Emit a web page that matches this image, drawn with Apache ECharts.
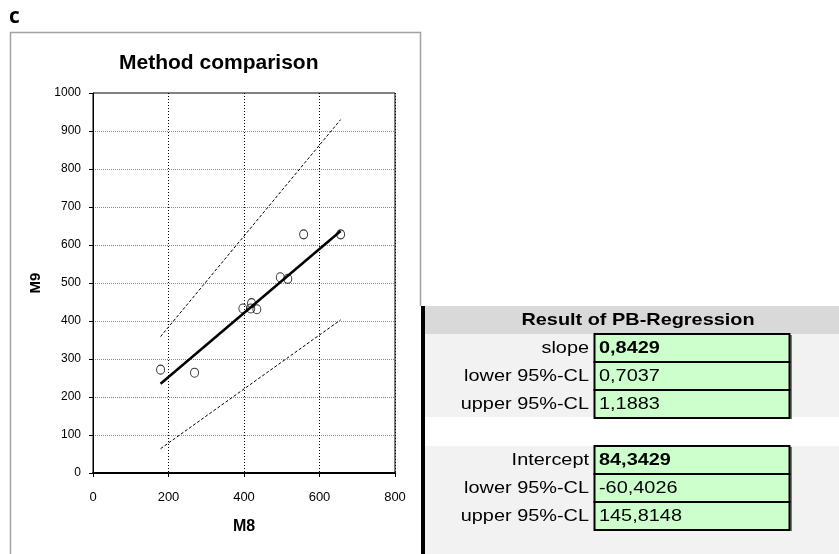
<!DOCTYPE html>
<html><head><meta charset="utf-8">
<script src="https://cdn.jsdelivr.net/npm/echarts@6/dist/echarts.min.js"></script>
<style>html,body{margin:0;padding:0;background:#fff}#c{width:839px;height:554px}</style>
</head><body><div id="c"></div>
<script>
// measured points
const m8 = [179, 269, 397, 420, 418, 434, 496, 516, 558, 656];
const m9 = [272, 264, 433, 447, 433, 431, 515, 511, 628, 628];
// regression line and confidence lines (end points)
const lineX = [179, 656];
const pbLine = [235, 637];
const upperCL = [359, 930];
const lowerCL = [64, 403];
// table contents
const tableTitle = 'Result of PB-Regression';
const slopeLabels = ['slope', 'lower 95%-CL', 'upper 95%-CL'];
const slopeValues = ['0,8429', '0,7037', '1,1883'];
const interceptLabels = ['Intercept', 'lower 95%-CL', 'upper 95%-CL'];
const interceptValues = ['84,3429', '-60,4026', '145,8148'];

const FONT = "'Liberation Sans', Arial, sans-serif";
const chart = echarts.init(document.getElementById('c'), null, {renderer: 'canvas'});

const graphics = [];
graphics.push({type: 'polyline', z: 0, shape: {points: [[10.5, 554], [10.5, 32.5], [420.5, 32.5], [420.5, 306]]},
  style: {stroke: '#a3a3a3', lineWidth: 1.5, fill: null}, silent: true});
graphics.push({type: 'text', x: 9, y: 17, style: {text: 'c', font: "bold 21px 'Open Sans', sans-serif", fill: '#000', textAlign: 'left', textVerticalAlign: 'middle'}});
graphics.push({type: 'rect', shape: {x: 421, y: 306, width: 4, height: 248}, style: {fill: '#000'}});
graphics.push({type: 'rect', shape: {x: 425, y: 306, width: 414, height: 28}, style: {fill: '#d9d9d9'}});
graphics.push({type: 'text', x: 638, y: 320.5, scaleX: 1.17, style: {text: tableTitle, font: 'bold 17px ' + FONT, fill: '#000', textAlign: 'center', textVerticalAlign: 'middle'}});
graphics.push({type: 'rect', shape: {x: 425, y: 334, width: 414, height: 83}, style: {fill: '#f2f2f2'}});
graphics.push({type: 'rect', shape: {x: 425, y: 446, width: 414, height: 108}, style: {fill: '#f2f2f2'}});

function addBlock(labels, values, top) {
  const h = 28;
  for (let i = 0; i < labels.length; i++) {
    const y = top + i * h;
    graphics.push({type: 'rect', z: 1, shape: {x: 596, y: y + 1, width: 196, height: h}, style: {fill: '#777'}});
    graphics.push({type: 'rect', z: 2, shape: {x: 594.5, y: y, width: 195, height: h}, style: {fill: '#ccffcc', stroke: '#000', lineWidth: 2}});
    graphics.push({type: 'text', z: 3, x: 589, y: y + h / 2 + 0.5, scaleX: 1.17, style: {text: labels[i], font: '17px ' + FONT, fill: '#000', textAlign: 'right', textVerticalAlign: 'middle'}});
    graphics.push({type: 'text', z: 3, x: 599, y: y + h / 2 + 0.5, scaleX: 1.17, style: {text: values[i], font: (i === 0 ? 'bold ' : '') + '17px ' + FONT, fill: '#000', textAlign: 'left', textVerticalAlign: 'middle'}});
  }
}
addBlock(slopeLabels, slopeValues, 334);
addBlock(interceptLabels, interceptValues, 446);

const option = {
  backgroundColor: '#fff',
  animation: false,
  title: {text: 'Method comparison', left: 114, top: 48,
    textStyle: {fontFamily: FONT, fontWeight: 'bold', fontSize: 21, color: '#000'}},
  grid: {left: 93, right: 444, top: 93, bottom: 81, show: true, borderColor: '#000', borderWidth: 1, backgroundColor: 'transparent'},
  xAxis: {
    type: 'value', min: 0, max: 800, interval: 200,
    name: 'M8', nameLocation: 'middle', nameGap: 46,
    nameTextStyle: {fontFamily: FONT, fontWeight: 'bold', fontSize: 16, color: '#000'},
    axisLine: {show: true, onZero: false, lineStyle: {color: '#000', width: 2}},
    axisTick: {show: true, length: 4, lineStyle: {color: '#000'}},
    axisLabel: {margin: 18, fontFamily: FONT, fontSize: 13, color: '#000', formatter: v => String(v)},
    splitLine: {show: true, lineStyle: {color: '#000', type: [1, 2], width: 1}}
  },
  yAxis: {
    type: 'value', min: 0, max: 1000, interval: 100,
    name: 'M9', nameLocation: 'middle', nameGap: 50,
    nameTextStyle: {fontFamily: FONT, fontWeight: 'bold', fontSize: 15, color: '#000'},
    axisLine: {show: true, lineStyle: {color: '#000', width: 1}},
    axisTick: {show: true, length: 4, lineStyle: {color: '#000'}},
    axisLabel: {margin: 12, fontFamily: FONT, fontSize: 12, color: '#000', formatter: v => String(v)},
    splitLine: {show: true, lineStyle: {color: '#888', type: [1, 1], width: 1}}
  },
  series: [
    {type: 'line', name: 'upper', data: lineX.map((x, i) => [x, upperCL[i]]), symbol: 'none', z: 3,
      lineStyle: {color: '#000', width: 1, type: [3, 2]}},
    {type: 'line', name: 'lower', data: lineX.map((x, i) => [x, lowerCL[i]]), symbol: 'none', z: 3,
      lineStyle: {color: '#000', width: 1, type: [3, 2]}},
    {type: 'line', name: 'PB', data: lineX.map((x, i) => [x, pbLine[i]]), symbol: 'none', z: 4,
      lineStyle: {color: '#000', width: 2.5}},
    {type: 'scatter', name: 'data', data: m8.map((x, i) => [x, m9[i]]), symbol: 'circle', symbolSize: [8, 9], z: 5,
      itemStyle: {color: 'rgba(255,255,255,0)', borderColor: '#000', borderWidth: 1}}
  ],
  graphic: graphics
};
chart.setOption(option);
</script>
</body></html>
